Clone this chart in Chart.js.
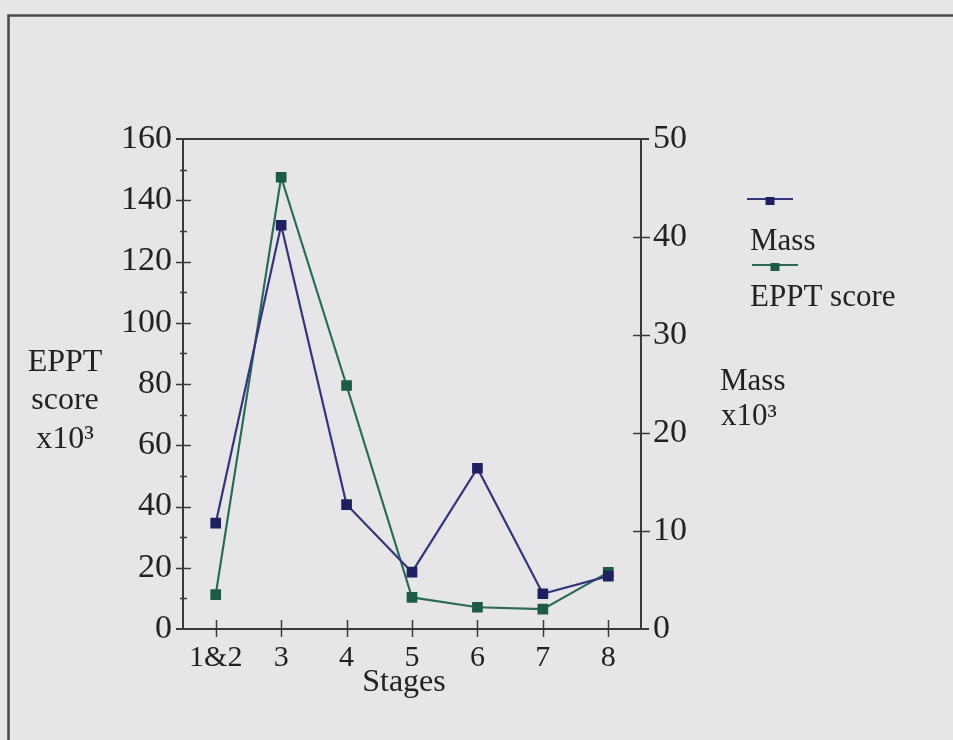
<!DOCTYPE html>
<html>
<head>
<meta charset="utf-8">
<title>EPPT score and mass by stage</title>
<script src="https://cdn.jsdelivr.net/npm/chart.js@4/dist/chart.umd.min.js"></script>
<style>
  html, body { margin: 0; padding: 0; background: #e6e6e8; }
  #wrap { width: 953px; height: 740px; }
</style>
</head>
<body>
<div id="wrap"><canvas id="stages-chart" width="953" height="740"></canvas></div>
<script>
var stages = ['1&2', '3', '4', '5', '6', '7', '8'];
var massValues = [10.8, 41.2, 12.7, 5.8, 16.4, 3.6, 5.4];      // x10^3, right axis
var epptValues = [11.2, 147.5, 79.5, 10.3, 7.1, 6.5, 18.5];    // x10^3, left axis
var epptTicks = [0, 20, 40, 60, 80, 100, 120, 140, 160];
var epptMinorTicks = [10, 30, 50, 70, 90, 110, 130, 150];
var massTicks = [0, 10, 20, 30, 40, 50];

var serif = '"Liberation Serif", "DejaVu Serif", serif';
var axisColor = '#3a3a3c';
var massColor = '#34357a';
var massMarker = '#1f2060';
var epptColor = '#2b6a57';
var epptMarker = '#1d5a47';

function line(ctx, x1, y1, x2, y2) {
  ctx.beginPath();
  ctx.moveTo(x1, y1);
  ctx.lineTo(x2, y2);
  ctx.stroke();
}

// frame, tick marks, axis titles and the legend are drawn by hand
var extras = {
  id: 'extras',
  beforeDraw: function(chart) {
    var ctx = chart.ctx;
    ctx.save();
    ctx.fillStyle = '#e6e6e8';
    ctx.fillRect(0, 0, chart.width, chart.height);
    ctx.strokeStyle = '#4a4a4c';
    ctx.lineWidth = 2.5;
    ctx.beginPath();
    ctx.moveTo(8.5, chart.height);
    ctx.lineTo(8.5, 15.5);
    ctx.lineTo(chart.width, 15.5);
    ctx.stroke();
    ctx.restore();
  },
  afterDraw: function(chart) {
    var ctx = chart.ctx;
    var area = chart.chartArea;
    var y = chart.scales.y, y1 = chart.scales.y1, x = chart.scales.x;
    ctx.save();
    ctx.strokeStyle = axisColor;

    // top edge and the extended base line
    ctx.lineWidth = 2;
    line(ctx, area.left - 7, area.top, area.right + 8, area.top);
    line(ctx, area.left - 7, area.bottom, area.right + 8, area.bottom);

    ctx.lineWidth = 1.5;
    epptTicks.forEach(function(v) {
      var py = Math.round(y.getPixelForValue(v)) + 0.5;
      if (v === 0 || v === 160) return;
      line(ctx, area.left - 7, py, area.left + 8, py);
    });
    epptMinorTicks.forEach(function(v) {
      var py = Math.round(y.getPixelForValue(v)) + 0.5;
      line(ctx, area.left - 3, py, area.left + 4, py);
    });
    massTicks.forEach(function(v) {
      if (v === 0 || v === 50) return;
      var py = Math.round(y1.getPixelForValue(v)) + 0.5;
      line(ctx, area.right - 8, py, area.right + 9, py);
    });
    stages.forEach(function(s, i) {
      var px = Math.round(x.getPixelForValue(i)) + 0.5;
      line(ctx, px, area.bottom - 9, px, area.bottom + 8);
    });

    // axis titles
    ctx.fillStyle = '#222';
    ctx.font = '32px ' + serif;
    ctx.textBaseline = 'alphabetic';
    ctx.textAlign = 'center';
    ctx.fillText('EPPT', 65, 371);
    ctx.fillText('score', 65, 409);
    ctx.fillText('x10\u00b3', 65, 448);
    ctx.fillText('Stages', 404, 691);
    ctx.font = '31px ' + serif;
    ctx.textAlign = 'left';
    ctx.fillText('Mass', 720, 390);
    ctx.fillText('x10\u00b3', 721, 425);

    // legend: sample line above each label
    var entries = [
      { label: 'Mass', color: massColor, marker: massMarker, x1: 747, x2: 793, ly: 199, ty: 250 },
      { label: 'EPPT score', color: epptColor, marker: epptMarker, x1: 752, x2: 798, ly: 265, ty: 306 }
    ];
    entries.forEach(function(e) {
      ctx.strokeStyle = e.color;
      ctx.lineWidth = 2;
      line(ctx, e.x1, e.ly, e.x2, e.ly);
      ctx.fillStyle = e.marker;
      var cx = (e.x1 + e.x2) / 2;
      ctx.fillRect(cx - 4.5, e.ly - 2, 9, 8);
      ctx.fillStyle = '#222';
      ctx.fillText(e.label, 750, e.ty);
    });
    ctx.restore();
  }
};

new Chart(document.getElementById('stages-chart'), {
  type: 'line',
  data: {
    labels: stages,
    datasets: [{
      label: 'Mass',
      data: massValues,
      yAxisID: 'y1',
      borderColor: massColor,
      backgroundColor: massMarker,
      pointBackgroundColor: massMarker,
      pointBorderColor: massMarker,
      borderWidth: 2.2,
      pointStyle: 'rect',
      pointRadius: 6,
      tension: 0
    }, {
      label: 'EPPT score',
      data: epptValues,
      yAxisID: 'y',
      borderColor: epptColor,
      backgroundColor: epptMarker,
      pointBackgroundColor: epptMarker,
      pointBorderColor: epptMarker,
      borderWidth: 2.2,
      pointStyle: 'rect',
      pointRadius: 6,
      tension: 0
    }]
  },
  options: {
    responsive: false,
    animation: false,
    events: [],
    layout: { padding: { top: 139, left: 0, right: 0, bottom: 0 } },
    plugins: { legend: { display: false }, tooltip: { enabled: false } },
    scales: {
      x: {
        offset: true,
        grid: { display: false, drawTicks: false },
        border: { display: true, color: axisColor, width: 2 },
        ticks: { color: '#222', padding: 11, font: { family: serif, size: 30 }, maxRotation: 0 },
        afterFit: function(scale) { scale.height = 111; }
      },
      y: {
        position: 'left',
        min: 0, max: 160,
        afterBuildTicks: function(scale) { scale.ticks = epptTicks.map(function(v) { return { value: v }; }); },
        grid: { display: false, drawTicks: false },
        border: { display: true, color: axisColor, width: 2 },
        ticks: { color: '#222', padding: 11, font: { family: serif, size: 34 } },
        afterFit: function(scale) { scale.width = 183; }
      },
      y1: {
        position: 'right',
        min: 0, max: 50,
        afterBuildTicks: function(scale) { scale.ticks = massTicks.map(function(v) { return { value: v }; }); },
        grid: { display: false, drawTicks: false },
        border: { display: true, color: axisColor, width: 2 },
        ticks: { color: '#222', padding: 12, font: { family: serif, size: 34 } },
        afterFit: function(scale) { scale.width = 312; }
      }
    }
  },
  plugins: [extras]
});
</script>
</body>
</html>
